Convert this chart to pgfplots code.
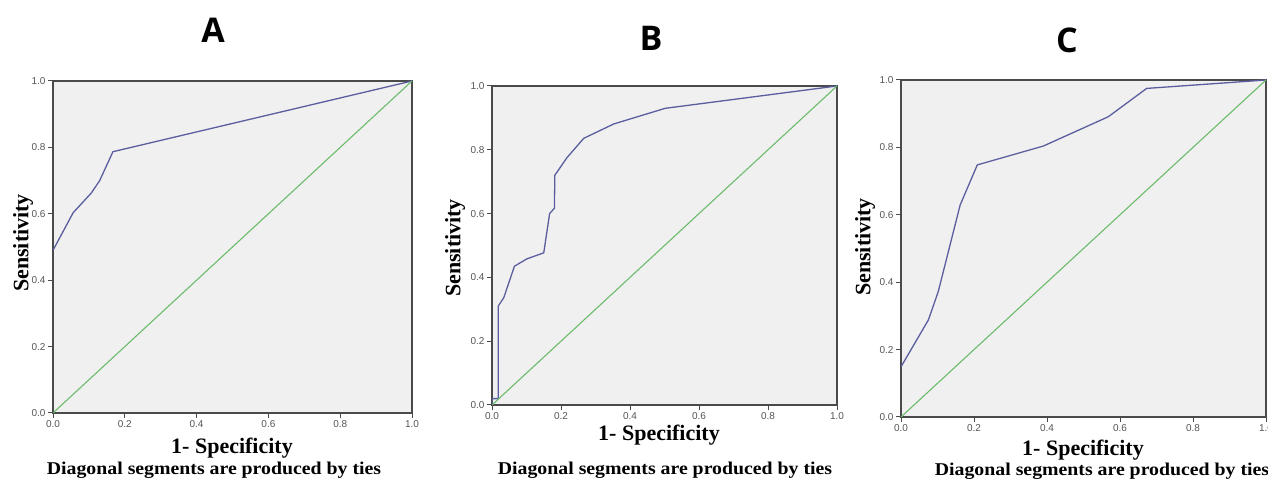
\documentclass[border=0pt]{standalone}
\usepackage{pgfplots}
\pgfplotsset{compat=1.18}
\usepackage{fontspec}
\setmainfont{Liberation Serif}
\setsansfont{Liberation Sans}
\newfontfamily\titlefont{Open Sans}
\definecolor{panelbg}{HTML}{F0F0F0}
\definecolor{rocblue}{HTML}{5A5E9E}
\definecolor{refgreen}{HTML}{6CBC6C}
\definecolor{framegray}{HTML}{4A4A4A}
\definecolor{tickgray}{HTML}{555555}

\pgfplotsset{
  roc/.style={
    scale only axis,
    anchor=south west,
    xmin=0, xmax=1, ymin=0, ymax=1,
    xtick={0,0.2,...,1}, ytick={0,0.2,...,1},
    axis line style={framegray, line width=1.3bp},
    axis background/.style={fill=panelbg},
    tick align=outside,
    xtick pos=left, ytick pos=left,
    major tick length=5bp,
    tick style={framegray, line width=1bp},
    ticklabel style={font=\fontsize{10bp}{12bp}\sffamily, text=tickgray},
    /pgf/number format/assume math mode=true,
    /pgf/number format/fixed,
    /pgf/number format/fixed zerofill,
    /pgf/number format/precision=1,
    xticklabel style={yshift=1bp},
    yticklabel style={xshift=1bp},
  },
  curve/.style={rocblue, line width=1.3bp, mark=none},
  diag/.style={refgreen, line width=1.1bp, mark=none},
}
\newcommand{\lab}{\fontsize{22bp}{25bp}\selectfont\bfseries}
\newcommand{\note}{\fontsize{18bp}{21bp}\selectfont\bfseries}
\newcommand{\ttl}{\fontsize{34bp}{38bp}\selectfont\titlefont\bfseries}

\begin{document}
\begin{tikzpicture}[x=1bp, y=1bp]
\path[use as bounding box] (0,0) rectangle (1268,480);

% A
\begin{axis}[roc, at={(53bp,67bp)}, width=359bp, height=332bp]
\addplot[curve] coordinates {(0,0.49) (0.056,0.603) (0.107,0.663) (0.13,0.70) (0.167,0.787) (1,1)};
\addplot[diag] coordinates {(0,0) (1,1)};
\end{axis}

% B
\begin{axis}[roc, at={(492bp,75bp)}, width=345bp, height=319bp]
\addplot[curve] coordinates {(0,0) (0,0.02) (0.018,0.02) (0.018,0.31) (0.034,0.336) (0.065,0.435)
  (0.101,0.458) (0.15,0.477) (0.167,0.60) (0.181,0.617) (0.182,0.72) (0.217,0.775)
  (0.266,0.836) (0.353,0.881) (0.502,0.93) (1,1)};
\addplot[diag] coordinates {(0,0) (1,1)};
\end{axis}

% C
\begin{axis}[roc, at={(901bp,63bp)}, width=365bp, height=337bp]
\addplot[curve] coordinates {(0,0.149) (0.075,0.288) (0.102,0.372) (0.162,0.629) (0.209,0.748)
  (0.39,0.804) (0.568,0.891) (0.673,0.975) (1,1)};
\addplot[diag] coordinates {(0,0) (1,1)};
\end{axis}

% titles
\node[font=\ttl] at (213,450) {A};
\node[font=\ttl] at (651,442) {B};
\node[font=\ttl] at (1067,440) {C};

% y labels
\node[font=\lab, rotate=90] at (23,237) {Sensitivity};
\node[font=\lab, rotate=90] at (455,232) {Sensitivity};
\node[font=\lab, rotate=90] at (865,233) {Sensitivity};

% x labels
\node[font=\lab] at (232,32) {1- Specificity};
\node[font=\lab] at (659,45) {1- Specificity};
\node[font=\lab] at (1083,30) {1- Specificity};

% notes
\node[font=\note, xscale=1.1] at (214,10) {Diagonal segments are produced by ties};
\node[font=\note, xscale=1.1] at (665,10) {Diagonal segments are produced by ties};
\node[font=\note, xscale=1.1] at (1102,9) {Diagonal segments are produced by ties};
\end{tikzpicture}
\end{document}
